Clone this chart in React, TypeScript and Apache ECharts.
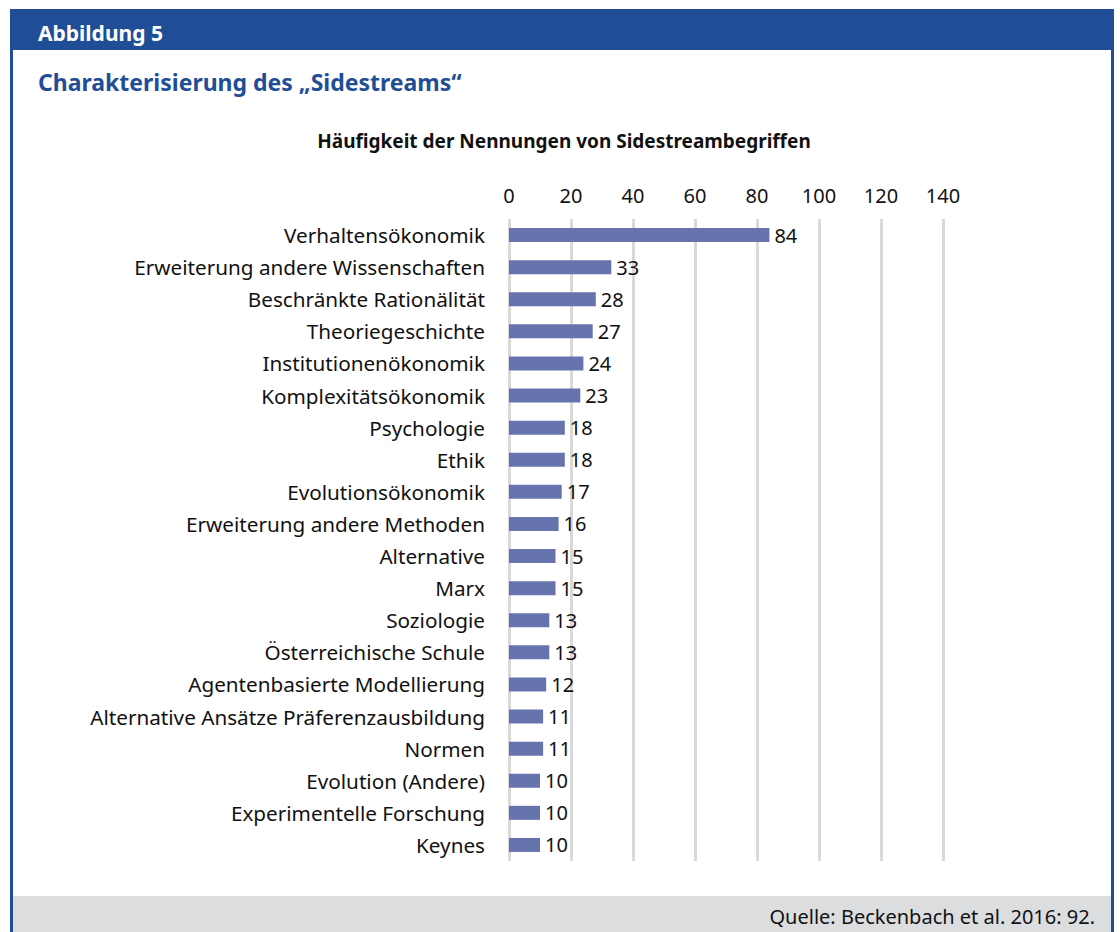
import React, { useEffect, useRef } from "react";
import * as echarts from "echarts";

const categories = [
  "Verhaltensökonomik",
  "Erweiterung andere Wissenschaften",
  "Beschränkte Rationälität",
  "Theoriegeschichte",
  "Institutionenökonomik",
  "Komplexitätsökonomik",
  "Psychologie",
  "Ethik",
  "Evolutionsökonomik",
  "Erweiterung andere Methoden",
  "Alternative",
  "Marx",
  "Soziologie",
  "Österreichische Schule",
  "Agentenbasierte Modellierung",
  "Alternative Ansätze Präferenzausbildung",
  "Normen",
  "Evolution (Andere)",
  "Experimentelle Forschung",
  "Keynes",
];
const values = [84, 33, 28, 27, 24, 23, 18, 18, 17, 16, 15, 15, 13, 13, 12, 11, 11, 10, 10, 10];

const headerText = "Abbildung 5";
const titleText = "Charakterisierung des „Sidestreams“";
const chartTitle = "Häufigkeit der Nennungen von Sidestreambegriffen";
const sourceText = "Quelle: Beckenbach et al. 2016: 92.";

const FONT = "'Noto Sans', 'Open Sans', sans-serif";
const BLUE = "#1f4e96";

export default function App() {
  const ref = useRef<HTMLDivElement>(null);
  useEffect(() => {
    if (!ref.current) return;
    const chart = echarts.init(ref.current, undefined, { renderer: "svg" });
    chart.setOption({
      animation: false,
      backgroundColor: "#ffffff",
      textStyle: { fontFamily: FONT },
      graphic: [
        { type: "rect", shape: { x: 10, y: 9, width: 1104, height: 41 }, style: { fill: BLUE } },
        { type: "rect", shape: { x: 10, y: 9, width: 3, height: 923 }, style: { fill: BLUE } },
        { type: "rect", shape: { x: 1111, y: 9, width: 3, height: 923 }, style: { fill: BLUE } },
        { type: "rect", shape: { x: 13, y: 896, width: 1098, height: 36 }, style: { fill: "#dcdddf" } },
        {
          type: "text",
          x: 38,
          y: 33,
          style: { text: headerText, fill: "#ffffff", font: `bold 21px ${FONT}`, textVerticalAlign: "middle" },
        },
        {
          type: "text",
          x: 38,
          y: 82,
          style: { text: titleText, fill: BLUE, font: `bold 23px ${FONT}`, textVerticalAlign: "middle" },
        },
        {
          type: "text",
          x: 564,
          y: 141,
          style: {
            text: chartTitle,
            fill: "#111111",
            font: `bold 19px ${FONT}`,
            textAlign: "center",
            textVerticalAlign: "middle",
          },
        },
        {
          type: "text",
          x: 1095,
          y: 916,
          style: {
            text: sourceText,
            fill: "#111111",
            font: `20px ${FONT}`,
            textAlign: "right",
            textVerticalAlign: "middle",
          },
        },
      ],
      grid: { left: 509, right: 177, top: 219, bottom: 71, containLabel: false },
      xAxis: {
        type: "value",
        position: "top",
        min: 0,
        max: 140,
        interval: 20,
        axisLine: { show: false },
        axisTick: { show: false },
        axisLabel: { fontSize: 20, color: "#111111", margin: 14, fontFamily: FONT },
        splitLine: { show: true, lineStyle: { color: "#d9d9d9", width: 3 } },
      },
      yAxis: {
        type: "category",
        data: categories,
        inverse: true,
        axisLine: { show: false },
        axisTick: { show: false },
        axisLabel: { fontSize: 20.7, color: "#111111", margin: 24, fontFamily: FONT },
      },
      series: [
        {
          type: "bar",
          data: values,
          barWidth: 14,
          itemStyle: { color: "#6673ad" },
          label: {
            show: true,
            position: "right",
            distance: 5,
            fontSize: 20,
            color: "#111111",
            fontFamily: FONT,
          },
        },
      ],
    });
    return () => chart.dispose();
  }, []);
  return (
    <div
      ref={ref}
      style={{ position: "absolute", left: 0, top: 0, width: 1120, height: 932 }}
    />
  );
}
